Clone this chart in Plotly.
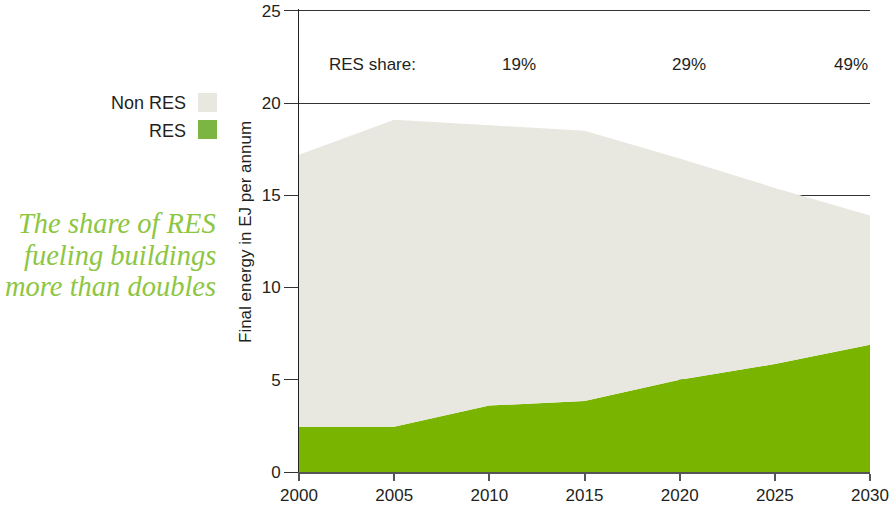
import plotly.graph_objects as go

years = [2000, 2005, 2010, 2015, 2020, 2025, 2030]
res = [2.45, 2.45, 3.6, 3.85, 5.0, 5.85, 6.9]
non_res = [14.75, 16.65, 15.2, 14.65, 12.0, 9.55, 7.0]
share_labels = ["19%", "29%", "49%"]
x_ticks = [2000, 2005, 2010, 2015, 2020, 2025, 2030]
y_ticks = [0, 5, 10, 15, 20, 25]
callout_lines = ["The share of RES", "fueling buildings", "more than doubles"]

C_NON = "#e8e7e0"
C_RES = "#78b400"
C_RES_LEG = "#7bb542"
C_TXT = "#231f20"
FONT = "Liberation Sans, Arial, sans-serif"

fig = go.Figure()
fig.add_trace(go.Scatter(x=years, y=res, name="RES", stackgroup="a", mode="lines",
                         line=dict(width=0, color=C_RES), fillcolor=C_RES, showlegend=False,
                         hoverinfo="skip"))
fig.add_trace(go.Scatter(x=years, y=non_res, name="Non RES", stackgroup="a", mode="lines",
                         line=dict(width=0, color=C_NON), fillcolor=C_NON, showlegend=False,
                         hoverinfo="skip"))

W, H = 891, 508
ml, mr, mt, mb = 299, 21, 9, 36

fig.update_layout(
    width=W, height=H,
    margin=dict(l=ml, r=mr, t=mt, b=mb, pad=0),
    plot_bgcolor="white", paper_bgcolor="white",
    font=dict(family=FONT, size=17, color=C_TXT),
    xaxis=dict(range=[2000, 2030], tickvals=x_ticks, ticks="outside", ticklen=7,
               tickcolor="#555555", tickwidth=1.5, showline=True, linecolor="#555555",
               linewidth=2, showgrid=False, zeroline=False, automargin=False,
               tickfont=dict(size=17, color=C_TXT)),
    yaxis=dict(range=[0, 25.1], tickvals=y_ticks, ticks="outside", ticklen=14,
               tickcolor="#333333", tickwidth=1, showline=True, linecolor="#222222",
               linewidth=1, showgrid=True, gridcolor="#333333", gridwidth=1,
               zeroline=False, automargin=False, tickfont=dict(size=17, color=C_TXT)),
    showlegend=False,
)


def px_x(p):
    return (p - ml) / (W - ml - mr)


def px_y(p):
    return (H - mb - p) / (H - mt - mb)


ann = []
# y-axis title
ann.append(dict(text="Final energy in EJ per annum", xref="paper", yref="paper",
                x=px_x(246), y=px_y(232), textangle=-90, showarrow=False,
                font=dict(size=17, color=C_TXT), xanchor="center", yanchor="middle"))
# RES share row
share_y = 22.1
ann.append(dict(text="RES share:", x=2001.45, y=share_y, xref="x", yref="y",
                showarrow=False, xanchor="left", yanchor="middle", font=dict(size=17)))
share_pos = [(2011.55, "center"), (2020.5, "center"), (2030, "right")]
for (sx, anc), lab in zip(share_pos, share_labels):
    ann.append(dict(text=lab, x=sx, y=share_y, xref="x", yref="y", showarrow=False,
                    xanchor=anc, yanchor="middle", font=dict(size=17)))

# custom legend
ann.append(dict(text="Non RES", xref="paper", yref="paper", x=px_x(188), y=px_y(103),
                xanchor="right", yanchor="middle", showarrow=False, font=dict(size=18)))
ann.append(dict(text="RES", xref="paper", yref="paper", x=px_x(188), y=px_y(131),
                xanchor="right", yanchor="middle", showarrow=False, font=dict(size=18)))
shapes = [
    dict(type="rect", xref="paper", yref="paper", x0=px_x(198), x1=px_x(217),
         y0=px_y(112), y1=px_y(93), fillcolor=C_NON, line=dict(width=0)),
    dict(type="rect", xref="paper", yref="paper", x0=px_x(198), x1=px_x(217),
         y0=px_y(139), y1=px_y(120), fillcolor=C_RES_LEG, line=dict(width=0)),
]

# italic callout
for line, cy in zip(callout_lines, [224, 255, 286]):
    ann.append(dict(text=line, xref="paper", yref="paper", x=px_x(218), y=px_y(cy),
                    xanchor="right", yanchor="middle", showarrow=False,
                    font=dict(family="Liberation Serif, serif", size=28.5, color="#8dc641",
                              style="italic")))

fig.update_layout(annotations=ann, shapes=shapes)
fig.write_html("out.html", config={"displayModeBar": False},
               post_script="document.body.style.margin='0';")
